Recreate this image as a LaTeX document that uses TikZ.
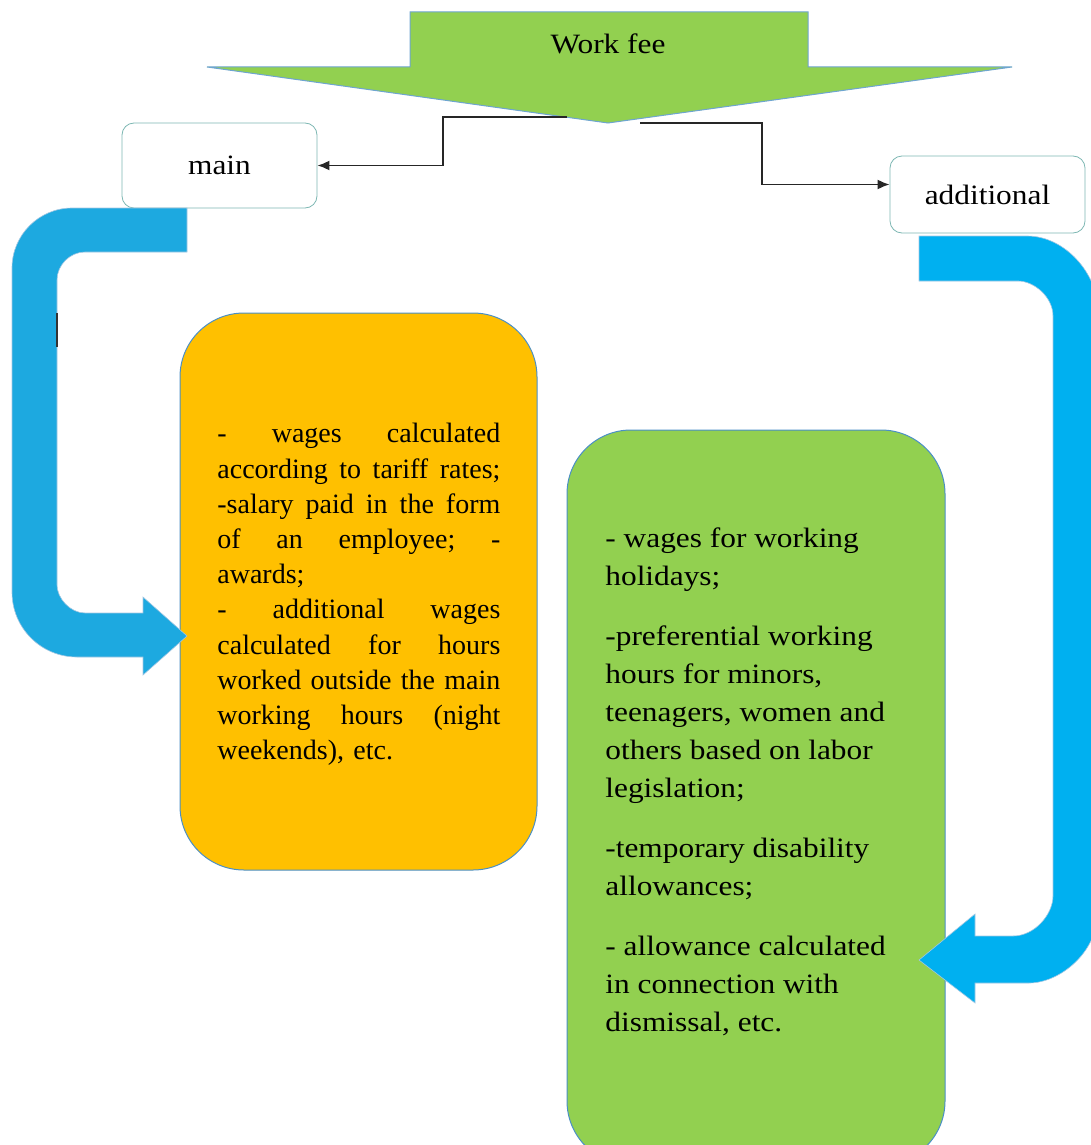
\documentclass[tikz,border=0pt]{standalone}
\usepackage{fontspec}
\setmainfont{Liberation Serif}
\newfontfamily\widefont[FakeStretch=1.12]{Liberation Serif}
\usetikzlibrary{arrows.meta}

\definecolor{feegreen}{HTML}{92D050}
\definecolor{mainorange}{HTML}{FFC000}
\definecolor{leftblue}{HTML}{1DA9E0}
\definecolor{rightblue}{HTML}{00B0F0}
\definecolor{edgeblue}{HTML}{4A8FC6}
\definecolor{edgeteal}{HTML}{7DB7B3}

% one justified line of the orange list (\hfill between words)
\def\listw{141.5pt}
\newcommand{\jline}[1]{\makebox[\listw]{#1}}

\tikzset{
	kind/.style={draw=edgeteal, fill=white, rounded corners=6pt,
		minimum width=97.5pt, inner sep=0pt, font=\widefont\fontsize{14}{17}\selectfont},
	listbox/.style={draw=edgeblue, line width=0.5pt, rounded corners=32pt, inner sep=0pt},
	conn/.style={-{Latex[length=6pt,width=5pt]}, line width=0.9pt, black!85},
	bentarrow/.style={draw=edgeblue!50, line width=0.3pt}
}

\begin{document}
\begin{tikzpicture}[x=0.5pt, y=-0.5pt]
	\useasboundingbox (0,0) rectangle (1091,1145);
	\clip (0,0) rectangle (1091,1145);

	% top block arrow
	\filldraw[fill=feegreen, draw=edgeblue!80, line width=0.5pt]
		(410,12) -- (808,12) -- (808,67) -- (1012,67) -- (608,123)
		-- (207,67) -- (410,67) -- cycle;
	\node[font=\widefont\fontsize{14}{17}\selectfont] (fee) at (608,44) {Work fee};
	\coordinate (feeL) at (567,117);
	\coordinate (feeR) at (640,123);

	\node[kind, minimum height=42.5pt] (main) at (219.5,165.5) {main};
	\node[kind, minimum height=38.5pt] (add)  at (987.5,194.5) {additional};

	\draw[conn] (feeL) -- ++(-124,0) |- (main);
	\draw[conn] (feeR) -- ++(122,0) |- ([yshift=5pt]add.west);

	% lists
	\node[listbox, fill=mainorange, minimum width=178.5pt, minimum height=278.5pt]
		(wagesbox) at (358.5,591.5) {};
	\node[listbox, fill=feegreen, minimum width=189pt, minimum height=367.5pt]
		(extrabox) at (756,797.5) {};

	\node[anchor=north west, text width=\listw, align=left, inner sep=0pt,
		font=\fontsize{14}{17.6}\selectfont] (wageslist) at (217,423) {%
		\jline{- \hfill wages \hfill calculated}\\
		\jline{according \hfill to \hfill tariff \hfill rates;}\\
		\jline{-salary \hfill paid \hfill in \hfill the \hfill form}\\
		\jline{of \hfill an \hfill employee; \hfill -}\\
		awards;\\
		\jline{- \hfill additional \hfill wages}\\
		\jline{calculated \hfill for \hfill hours}\\
		\jline{worked \hfill outside \hfill the \hfill main}\\
		\jline{working \hfill hours \hfill (night}\\
		weekends), etc.};

	\node[anchor=north west, align=left, inner sep=0pt,
		font=\widefont\fontsize{14}{19}\selectfont] (extralist) at (605,527) {%
		- wages for working\\
		holidays;\\[11pt]
		-preferential working\\
		hours for minors,\\
		teenagers, women and\\
		others based on labor\\
		legislation;\\[11pt]
		-temporary disability\\
		allowances;\\[11pt]
		- allowance calculated\\
		in connection with\\
		dismissal, etc.};

	% bent arrows
	\filldraw[fill=leftblue, bentarrow]
		(187,208) -- (72,208) .. controls (39,208) and (12,235) .. (12,268) -- (12,592)
		.. controls (12,628) and (41,657) .. (77,657) -- (143,657) -- (143,675) -- (187,636)
		-- (143,597) -- (143,613) -- (85,613) .. controls (70,613) and (57,598) .. (57,585)
		-- (57,280) .. controls (57,265) and (70,252) .. (85,252) -- (187,252) -- cycle;
	\draw[line width=1pt, black!80] (57,313) -- (57,347);

	\filldraw[fill=rightblue, bentarrow]
		(919,236) -- (1027,236) .. controls (1066,236) and (1097,275) .. (1097,306) -- (1097,915)
		.. controls (1097,952) and (1060,983) .. (1029,983) -- (975,983) -- (975,1003) -- (919,960)
		-- (975,914) -- (975,936) -- (1013,936) .. controls (1035,936) and (1053,914) .. (1053,896)
		-- (1053,316) .. controls (1053,297) and (1034,281) .. (1018,281) -- (919,281) -- cycle;
\end{tikzpicture}
\end{document}
